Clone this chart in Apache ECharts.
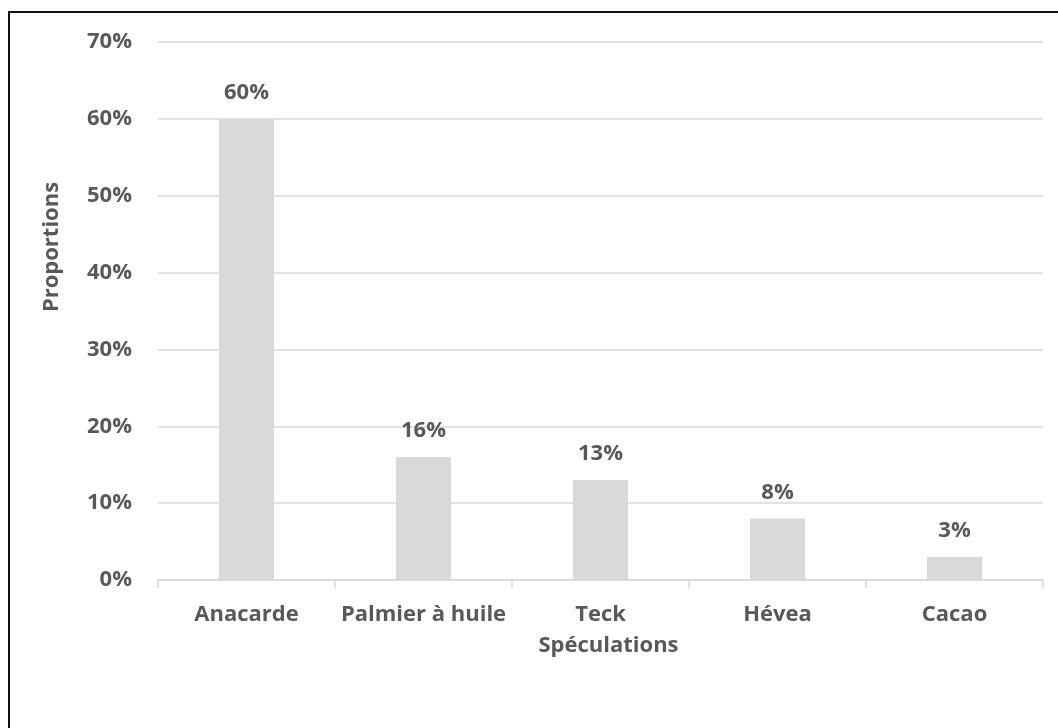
<!DOCTYPE html>
<html lang="fr">
<head>
    <meta charset="UTF-8">
    <title>Proportions par spéculation</title>
    <script src="https://cdn.jsdelivr.net/npm/echarts@6/dist/echarts.min.js"></script>
    <style>
        html, body { margin: 0; padding: 0; background: #fff; }
    </style>
</head>
<body>
    <div style="width: 1058px; height: 728px" id="main"></div>
    <script type="text/javascript">
        var categories = ['Anacarde', 'Palmier à huile', 'Teck', 'Hévea', 'Cacao'];
        var values = [60, 16, 13, 8, 3];
        var yTicks = [0, 10, 20, 30, 40, 50, 60, 70];

        var txt = '#595959';
        var grey = '#d9d9d9';
        var font = '"Open Sans", "Noto Sans", sans-serif';

        var myChart = echarts.init(document.getElementById('main'));
        var option = {
            backgroundColor: '#fff',
            animation: false,
            graphic: [{
                type: 'rect',
                shape: { x: 9, y: 12, width: 1200, height: 900 },
                style: { fill: 'none', stroke: '#111', lineWidth: 2 },
                silent: true
            }],
            grid: { left: 158, right: 15, top: 42, bottom: 148 },
            xAxis: {
                type: 'category',
                data: categories,
                name: 'Spéculations',
                nameLocation: 'middle',
                nameGap: 55,
                nameTextStyle: {
                    color: txt, fontSize: 22, fontWeight: 'bold', fontFamily: font,
                    padding: [0, 0, 0, 16]
                },
                axisLine: { lineStyle: { color: grey, width: 1.5 } },
                axisTick: { show: true, length: 8, lineStyle: { color: grey, width: 1.5 } },
                axisLabel: {
                    color: txt, fontSize: 22, fontWeight: 'bold', fontFamily: font,
                    margin: 24, interval: 0
                }
            },
            yAxis: {
                type: 'value',
                min: yTicks[0],
                max: yTicks[yTicks.length - 1],
                interval: 10,
                name: 'Proportions',
                nameLocation: 'middle',
                nameGap: 95,
                nameTextStyle: {
                    color: txt, fontSize: 22, fontWeight: 'bold', fontFamily: font,
                    padding: [0, 0, 0, 128]
                },
                axisLine: { show: false },
                axisTick: { show: false },
                splitLine: { lineStyle: { color: grey, width: 1.5 } },
                axisLabel: {
                    color: txt, fontSize: 22, fontWeight: 'bold', fontFamily: font,
                    margin: 26,
                    formatter: '{value}%'
                }
            },
            series: [{
                type: 'bar',
                data: values,
                barWidth: 55,
                itemStyle: { color: grey },
                label: {
                    show: true,
                    position: 'top',
                    distance: 15,
                    formatter: '{c}%',
                    color: txt, fontSize: 22, fontWeight: 'bold', fontFamily: font
                }
            }]
        };
        myChart.setOption(option);
    </script>
</body>
</html>
